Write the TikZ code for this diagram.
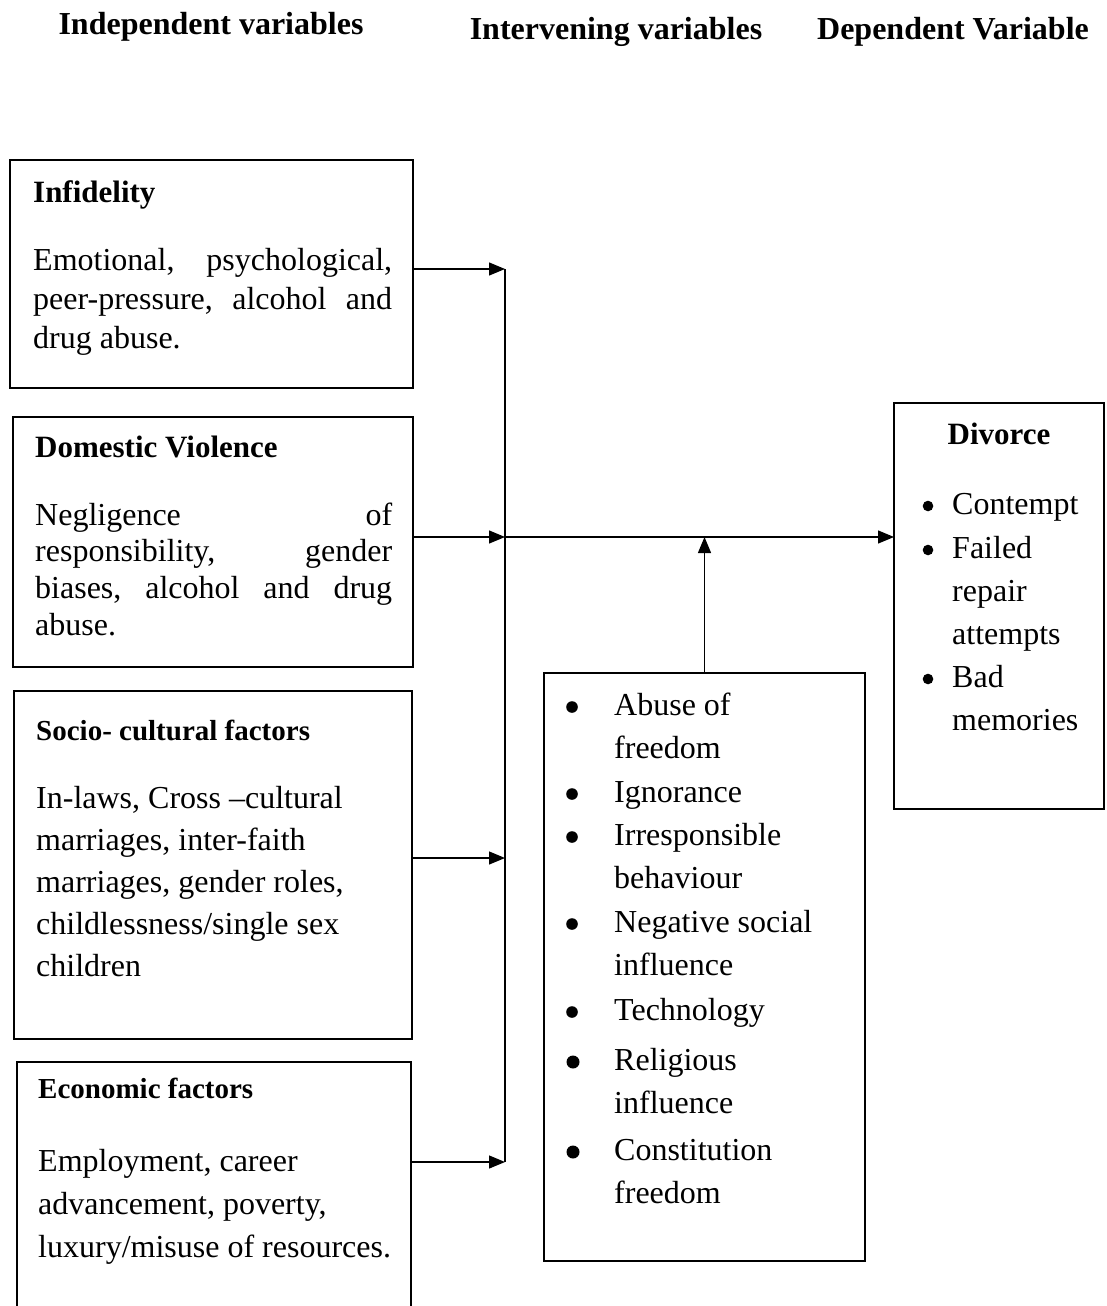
\documentclass[tikz,border=0pt]{standalone}
\usepackage{fontspec}
\setmainfont{Liberation Serif}
\usetikzlibrary{arrows.meta}
\begin{document}
\begin{tikzpicture}[x=1pt,y=-1pt,
  box/.style={draw, line width=2pt, anchor=north west, inner sep=0pt, outer sep=0pt},
  arr/.style={line width=1.3pt, -{Triangle[length=16pt,width=13pt]}},
  line/.style={line width=1.3pt},
  bodyL/.style={font=\fontsize{32}{38}\selectfont, anchor=base west, inner sep=0pt},
  head/.style={font=\bfseries\fontsize{31}{36}\selectfont, anchor=base west, inner sep=0pt},
  headS/.style={font=\bfseries\fontsize{29}{34}\selectfont, anchor=base west, inner sep=0pt},
  toplabel/.style={font=\bfseries\fontsize{32}{38}\selectfont, anchor=base, inner sep=0pt},
  bul/.style={fill=black}
]
\useasboundingbox (0,0) rectangle (1106,1306);

% column headers
\node[toplabel] (h1) at (211,35) {Independent variables};
\node[toplabel] (h2) at (616,40) {Intervening variables};
\node[toplabel] (h3) at (953,40) {Dependent Variable};

% boxes
\node[box, minimum width=403pt, minimum height=228pt] (inf) at (10,160) {};
\node[box, minimum width=400pt, minimum height=250pt] (dom) at (13,417) {};
\node[box, minimum width=398pt, minimum height=348pt] (soc) at (14,691) {};
\node[box, draw=none, minimum width=394pt, minimum height=250pt] (eco) at (17,1062) {};
\draw[line width=2pt] (eco.south west) -- (eco.north west) -- (eco.north east) -- (eco.south east);
\node[box, minimum width=321pt, minimum height=588pt] (intv) at (544,673) {};
\node[box, minimum width=210pt, minimum height=406pt] (div) at (894,403) {};

% Infidelity
\node[head] (inf-t) at (33,202) {Infidelity};
\foreach \t [count=\i] in {{\makebox[359pt][s]{Emotional,\hfill psychological,}},
                            {\makebox[359pt][s]{peer-pressure,\hfill alcohol\hfill and}},
                            {drug abuse.}}
  \node[bodyL] (inf-\i) at (33,{270+39*(\i-1)}) {\t};

% Domestic violence
\node[head] (dom-t) at (35,457) {Domestic Violence};
\foreach \t [count=\i] in {{\makebox[357pt][s]{Negligence\hfill of}},
                            {\makebox[357pt][s]{responsibility,\hfill gender}},
                            {\makebox[357pt][s]{biases,\hfill alcohol\hfill and\hfill drug}},
                            {abuse.}}
  \node[bodyL] (dom-\i) at (35,{525+36.7*(\i-1)}) {\t};

% Socio-cultural
\node[headS] (soc-t) at (36,740) {Socio- cultural factors};
\foreach \t [count=\i] in {{In-laws, Cross –cultural},
                            {marriages, inter-faith},
                            {marriages, gender roles,},
                            {childlessness/single sex},
                            {children}}
  \node[bodyL] (soc-\i) at (36,{808+42.2*(\i-1)}) {\t};

% Economic
\node[headS] (eco-t) at (38,1098) {Economic factors};
\foreach \t [count=\i] in {{Employment, career},
                            {advancement, poverty,},
                            {luxury/misuse of resources.}}
  \node[bodyL] (eco-\i) at (38,{1171+43*(\i-1)}) {\t};

% Intervening variables
\foreach \t/\yy [count=\i] in {{Abuse of}/715, {freedom}/758, {Ignorance}/802,
    {Irresponsible}/845, {behaviour}/888, {Negative social}/932, {influence}/975,
    {Technology}/1020, {Religious}/1070, {influence}/1113, {Constitution}/1160,
    {freedom}/1203}
  \node[bodyL] (iv-\i) at (614,\yy) {\t};
\foreach \yy in {715,802,845,932,1020}
  \fill[bul] (572,\yy-8) circle (5.8);
\foreach \yy in {1070,1160}
  \fill[bul] (573,\yy-8) circle (6.5);

% Divorce
\node[head, anchor=base] (div-t) at (999,444) {Divorce};
\foreach \t/\yy [count=\i] in {{Contempt}/514, {Failed}/558, {repair}/601,
    {attempts}/644, {Bad}/687, {memories}/730}
  \node[bodyL] (dv-\i) at (952,\yy) {\t};
\foreach \yy in {514,558,687}
  \fill[bul] (928,\yy-8) circle (5.3);

% connectors
\coordinate (b1) at (505,269);
\coordinate (b2) at (505,537);
\coordinate (b3) at (505,858);
\coordinate (b4) at (505,1162);
\draw[line] (b1) -- (b4);
\draw[arr] (b1 -| inf.east) -- (b1);
\draw[arr] (b2 -| dom.east) -- (b2);
\draw[arr] (b3 -| soc.east) -- (b3);
\draw[arr] (b4 -| eco.east) -- (b4);
\draw[arr] (b2) -- (b2 -| div.west);
\draw[arr] (intv.north) -- (intv.north |- b2);
\end{tikzpicture}
\end{document}
